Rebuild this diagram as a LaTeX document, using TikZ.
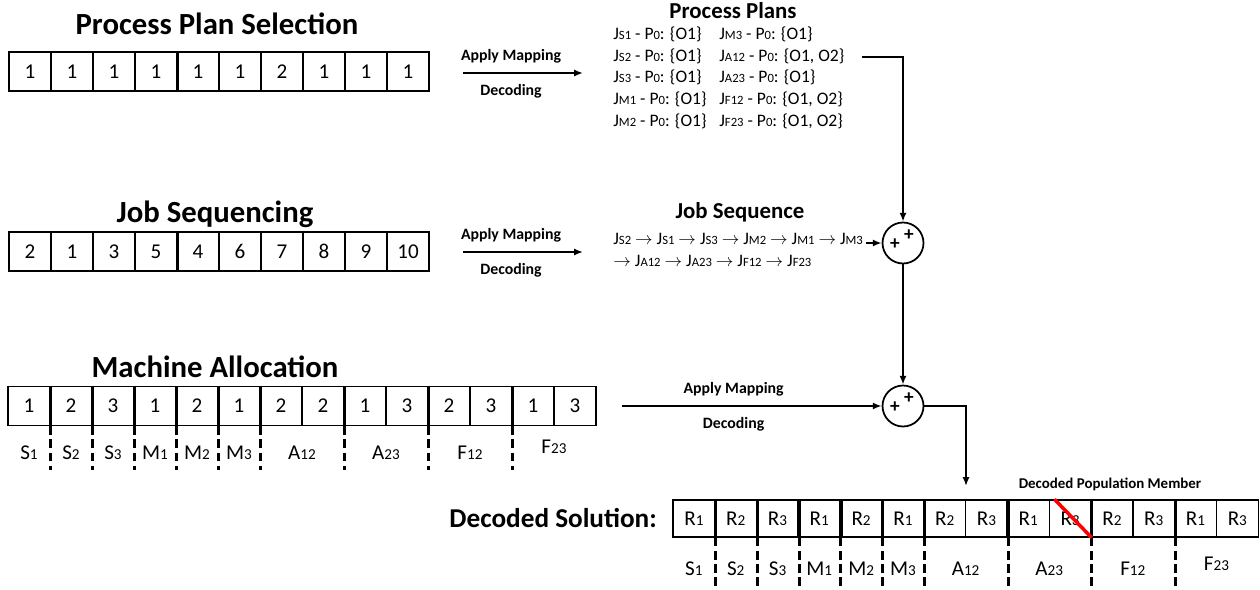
\documentclass[tikz,border=0pt]{standalone}
\usepackage{fontspec}
\setmainfont{Carlito}
\usepackage{graphicx}
\usetikzlibrary{positioning, arrows.meta, calc}

\newcommand{\lo}[1]{\scalebox{0.72}{#1}}
\newcommand{\Jx}[1]{J\lo{#1}}
\newcommand{\ra}{$\rightarrow$}

\begin{document}
\begin{tikzpicture}[x=0.02cm, y=-0.02cm,
  cell/.style={draw, line width=0.8pt, minimum width=0.84cm, minimum height=0.78cm,
    inner sep=0pt, font=\fontsize{12}{14}\selectfont},
  dcell/.style={cell, minimum width=0.836cm, minimum height=0.74cm},
  bigtitle/.style={font=\fontsize{17.5}{20}\selectfont\bfseries},
  subhead/.style={font=\fontsize{13}{15}\selectfont\bfseries},
  tagtext/.style={font=\fontsize{9}{11}\selectfont\bfseries},
  plantext/.style={font=\fontsize{10}{12.5}\selectfont, align=left, inner sep=0pt},
  grplabel/.style={font=\fontsize{12}{14}\selectfont, inner sep=0pt},
  plussign/.style={font=\fontsize{11}{12}\selectfont\bfseries, inner sep=0pt},
  arr/.style={-{Latex[length=5pt,width=4pt]}, line width=1pt},
  grpsep/.style={line width=2pt},
  grpcut/.style={line width=1.7pt, dash pattern=on 5pt off 2.5pt},
  sumnode/.style={draw, circle, line width=1pt, minimum size=0.82cm, inner sep=0pt},
]
  \useasboundingbox (0,0) rectangle (1260,589);

  % ── Process plan selection ──
  \node[bigtitle, anchor=base] (t-ps) at (217,34) {Process Plan Selection};
  \foreach \v [count=\i] in {1,1,1,1,1,1,2,1,1,1}
    \node[cell] (ps-\i) at ({9+42*(\i-0.5)},71.5) {\v};
  \draw[line width=1.4pt] (ps-4.north east) -- (ps-4.south east);

  \coordinate (m1a) at (463,73);
  \coordinate (m1b) at (583,73);
  \draw[arr] (m1a) -- (m1b)
    node[pos=0.4, above=1.5pt, tagtext] {Apply Mapping}
    node[pos=0.4, below=2.5pt, tagtext] {Decoding};

  % process plans list
  \node[subhead] (pp-h) at (733,11) {Process Plans};
  \node[plantext, anchor=north west] (pp-l) at (613,26)
    {\Jx{S1} - P\lo{0}: \{O1\}\\ \Jx{S2} - P\lo{0}: \{O1\}\\ \Jx{S3} - P\lo{0}: \{O1\}\\
     \Jx{M1} - P\lo{0}: \{O1\}\\ \Jx{M2} - P\lo{0}: \{O1\}};
  \node[plantext, anchor=north west] (pp-r) at (719,26)
    {\Jx{M3} - P\lo{0}: \{O1\}\\ \Jx{A12} - P\lo{0}: \{O1, O2\}\\ \Jx{A23} - P\lo{0}: \{O1\}\\
     \Jx{F12} - P\lo{0}: \{O1, O2\}\\ \Jx{F23} - P\lo{0}: \{O1, O2\}};

  % ── Job sequencing ──
  \node[bigtitle, anchor=base] (t-js) at (215,222) {Job Sequencing};
  \foreach \v [count=\i] in {2,1,3,5,4,6,7,8,9,10}
    \node[cell] (js-\i) at ({9+42*(\i-0.5)},251.5) {\v};
  \draw[line width=1.4pt] (js-4.north east) -- (js-4.south east);

  \coordinate (m2a) at (463,252);
  \coordinate (m2b) at (583,252);
  \draw[arr] (m2a) -- (m2b)
    node[pos=0.4, above=1.5pt, tagtext] {Apply Mapping}
    node[pos=0.4, below=2.5pt, tagtext] {Decoding};

  \node[subhead] (sq-h) at (740,212) {Job Sequence};
  \node[plantext, anchor=north west] (sq-l) at (613,233)
    {\Jx{S2} \ra{} \Jx{S1} \ra{} \Jx{S3} \ra{} \Jx{M2} \ra{} \Jx{M1} \ra{} \Jx{M3}\\
     \ra{} \Jx{A12} \ra{} \Jx{A23} \ra{} \Jx{F12} \ra{} \Jx{F23}};

  % summing points
  \node[sumnode] (sum1) at (903,243) {};
  \node[plussign] (sum1-a) at ($(sum1)+(6,-8)$) {+};
  \node[plussign] (sum1-b) at ($(sum1)+(-8,1)$) {+};
  \node[sumnode] (sum2) at (903,406) {};
  \node[plussign] (sum2-a) at ($(sum2)+(6,-8)$) {+};
  \node[plussign] (sum2-b) at ($(sum2)+(-8,1)$) {+};

  \coordinate (pp-o) at (862,57);
  \draw[arr] (pp-o) -| (sum1.north);
  \coordinate (sq-o) at (866,243);
  \draw[arr] (sq-o) -- (sum1.west);
  \draw[arr] (sum1) -- (sum2);

  % ── Machine allocation ──
  \node[bigtitle, anchor=base] (t-ma) at (215,377) {Machine Allocation};
  \foreach \v [count=\i] in {1,2,3,1,2,1,2,2,1,3,2,3,1,3}
    \node[cell] (ma-\i) at ({8+42*(\i-0.5)},406) {\v};
  \foreach \k in {1,2,3,4,5,6,8,10,12} {
    \draw[grpsep] (ma-\k.north east) -- (ma-\k.south east);
    \draw[grpcut] (ma-\k.south east) -- ++(0,44);
  }
  \foreach \a/\b/\t/\d in {1/1/S\lo{1}/27, 2/2/S\lo{2}/27, 3/3/S\lo{3}/27,
      4/4/M\lo{1}/27, 5/5/M\lo{2}/27, 6/6/M\lo{3}/27, 7/8/A\lo{12}/27,
      9/10/A\lo{23}/27, 11/12/F\lo{12}/27, 13/14/F\lo{23}/21}
    \node[grplabel] (ml-\a) at ($(ma-\a.south west)!0.5!(ma-\b.south east)+(0,\d)$) {\t};

  \coordinate (ma-o) at (622,406);
  \draw[arr] (ma-o) -- (sum2.west)
    node[pos=0.43, above=1.5pt, tagtext] {Apply Mapping}
    node[pos=0.43, below=2.5pt, tagtext] {Decoding};

  % ── Decoded solution ──
  \coordinate (ds-in) at (966,486);
  \draw[arr] (sum2.east) -| (ds-in);

  \node[font=\fontsize{15.5}{18}\selectfont\bfseries, anchor=base east] (t-ds) at (663,527) {Decoded Solution:};
  \node[font=\fontsize{8.5}{10}\selectfont\bfseries] (ds-h) at (1110,484) {Decoded Population Member};
  \foreach \v [count=\i] in {1,2,3,1,2,1,2,3,1,3,2,3,1,3}
    \node[dcell] (ds-\i) at ({673+41.8*(\i-0.5)},518.5) {R\lo{\v}};
  \foreach \k in {1,2,3,4,5,6,8,10,12} {
    \draw[grpsep] (ds-\k.north east) -- (ds-\k.south east);
    \draw[grpcut] (ds-\k.south east) -- ++(0,48);
  }
  \foreach \a/\b/\t/\d in {1/1/S\lo{1}/31, 2/2/S\lo{2}/31, 3/3/S\lo{3}/31,
      4/4/M\lo{1}/31, 5/5/M\lo{2}/31, 6/6/M\lo{3}/31, 7/8/A\lo{12}/31,
      9/10/A\lo{23}/31, 11/12/F\lo{12}/31, 13/14/F\lo{23}/26}
    \node[grplabel] (dl-\a) at ($(ds-\a.south west)!0.5!(ds-\b.south east)+(0,\d)$) {\t};
  \draw[red, line width=2pt] ($(ds-10.north west)+(6,0)$) -- (ds-10.south east);
\end{tikzpicture}
\end{document}
